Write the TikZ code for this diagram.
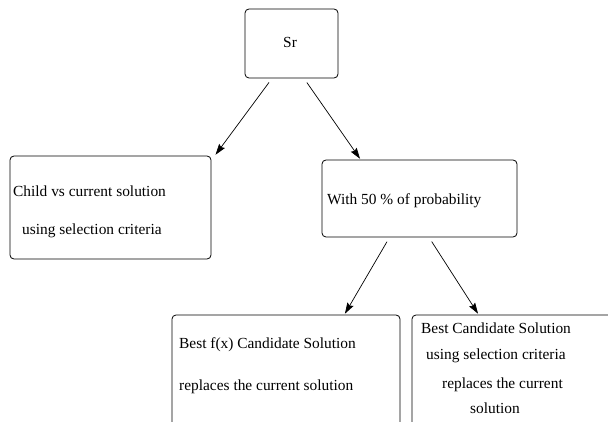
\documentclass[tikz,border=0pt]{standalone}
\usepackage{fontspec}
\setmainfont{Liberation Serif}
\usetikzlibrary{arrows.meta}
\begin{document}
\begin{tikzpicture}[x=1pt,y=-1pt,
  box/.style={draw,line width=0.8pt,rounded corners=4pt,inner sep=0pt,minimum width=#1},
  txt/.style={inner sep=0pt,anchor=base west,font=\fontsize{15.4}{18}\selectfont},
  conn/.style={line width=0.7pt,-{Stealth[length=11pt,width=7pt,inset=1.5pt]},shorten <=5pt,shorten >=1pt}]
\useasboundingbox (0,0) rectangle (608,422);
\clip (0,0) rectangle (608,422);
% boxes
\node[box=93pt,minimum height=69pt] (sr) at (291.5,43.5) {};
\node[box=201pt,minimum height=103pt] (cb) at (110.5,207.5) {};
\node[box=195pt,minimum height=77pt] (pb) at (419.5,198.5) {};
\node[box=228pt,minimum height=125pt] (bl) at (286,377.5) {};
\node[box=210pt,minimum height=125pt] (br) at (517,377.5) {};
% texts
\node[txt] (t0) at (283,48) {Sr};
\node[txt] (t1) at (13,197) {Child vs current solution};
\node[txt] (t2) at (22,235) {using selection criteria};
\node[txt] (t3) at (327,205) {With 50 \% of probability};
\node[txt] (t4) at (179,348) {Best f(x) Candidate Solution};
\node[txt] (t5) at (179,390) {replaces the current solution};
\node[txt] (t6) at (421,333) {Best Candidate Solution};
\node[txt] (t7) at (426,359) {using selection criteria};
\node[txt] (t8) at (442,388) {replaces the current};
\node[txt] (t9) at (470,413) {solution};
% connector end points
\coordinate (a1s) at ([xshift=-19.5pt]sr.south);
\coordinate (a1e) at ([xshift=3.5pt]cb.north east);
\coordinate (a2s) at ([xshift=12.5pt]sr.south);
\coordinate (a2e) at ([xshift=39pt]pb.north west);
\coordinate (a3s) at ([xshift=-30pt]pb.south);
\coordinate (a3e) at ([xshift=-56pt]bl.north east);
\coordinate (a4s) at ([xshift=9.5pt]pb.south);
\coordinate (a4e) at ([xshift=67pt]br.north west);
\draw[conn] (a1s) -- (a1e);
\draw[conn] (a2s) -- (a2e);
\draw[conn] (a3s) -- (a3e);
\draw[conn] (a4s) -- (a4e);
\end{tikzpicture}
\end{document}
